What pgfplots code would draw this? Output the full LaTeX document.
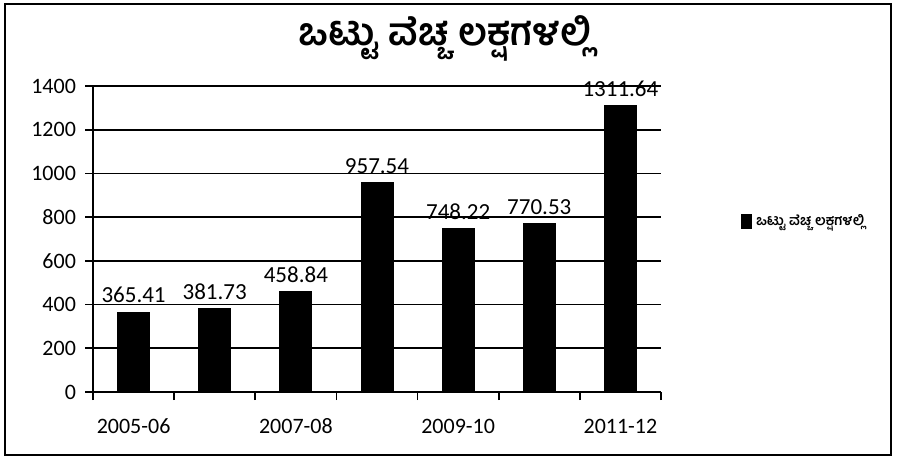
\documentclass[border=0pt]{standalone}
\usepackage{fontspec}
\setmainfont{Carlito}
\newfontfamily\kn[Script=Kannada]{Hind Mysuru}
\usepackage{pgfplots}
\pgfplotsset{compat=1.18}
\begin{document}
\begin{tikzpicture}
\path[use as bounding box] (0,0) rectangle (455pt,231pt);
\draw[line width=1pt] (2.5pt,3.5pt) rectangle (445.5pt,229pt);
\node[font=\kn\bfseries\fontsize{19}{22}\selectfont] at (222.5pt,212pt) {ಒಟ್ಟು ವೆಚ್ಚ ಲಕ್ಷಗಳಲ್ಲಿ};
\begin{axis}[
  at={(66.79pt,35pt)}, anchor=origin,
  scale only axis, width=284pt, height=153pt,
  xmin=-0.5, xmax=6.5, ymin=0, ymax=1400,
  axis x line*=bottom, axis y line*=left,
  axis line style={line width=0.8pt,-},
  xtick={0,2,4,6},
  xticklabels={2005-06,2007-08,2009-10,2011-12},
  minor xtick={-0.5,0.5,...,6.5},
  major x tick style={draw=none},
  minor tick length=4pt,
  ytick={0,200,...,1400},
  ymajorgrids, major grid style={black, line width=0.8pt},
  tick align=outside, major tick length=4pt,
  tick style={black, line width=0.8pt},
  /pgf/number format/1000 sep={},
  /pgf/number format/assume math mode=true,
  tick label style={font=\fontsize{11}{13}\selectfont},
  yticklabel style={xshift=-1pt},
  xticklabel style={yshift=-5pt, text height=8pt, text depth=2pt},
  ybar, bar width=16pt,
  point meta=explicit symbolic,
  nodes near coords,
  every node near coord/.append style={font=\fontsize{11.5}{13}\selectfont, yshift=1pt},
  legend style={at={(1.13,0.556)}, anchor=west, draw=none, fill=none,
    font=\kn\bfseries\fontsize{7}{9}\selectfont},
  legend image code/.code={\fill[black] (0pt,-3.5pt) rectangle (5pt,3.5pt);},
]
\addplot[fill=black, draw=black] coordinates {
  (0,365.41) [365.41]
  (1,381.73) [381.73]
  (2,458.84) [458.84]
  (3,957.54) [957.54]
  (4,748.22) [748.22]
  (5,770.53) [770.53]
  (6,1311.64) [1311.64]
};
\addlegendentry{ಒಟ್ಟು ವೆಚ್ಚ ಲಕ್ಷಗಳಲ್ಲಿ}
\end{axis}
\end{tikzpicture}
\end{document}
